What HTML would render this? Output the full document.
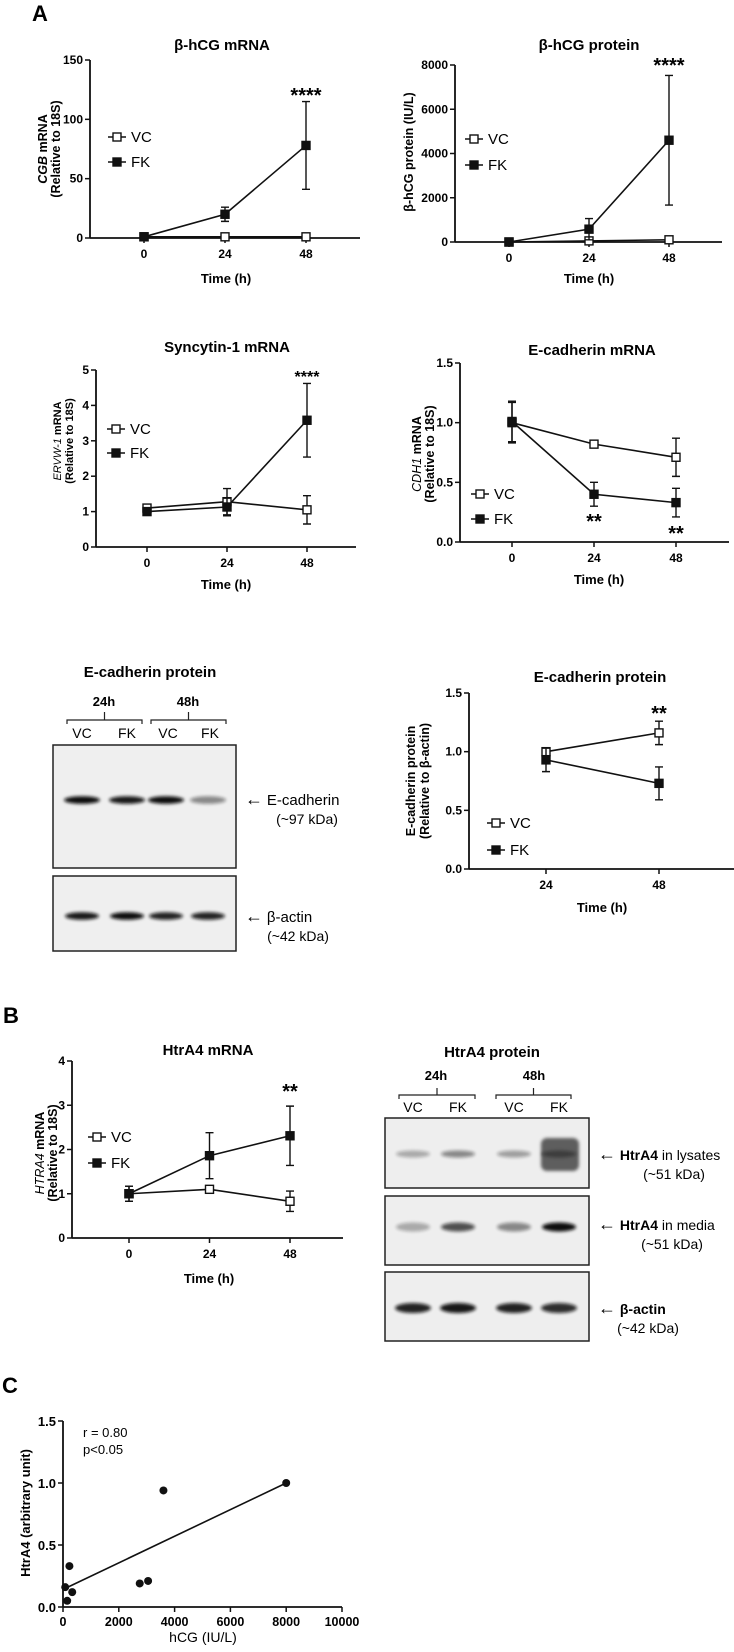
<!DOCTYPE html>
<html><head><meta charset="utf-8">
<style>
html,body{margin:0;padding:0;background:#fff;}
svg{display:block;font-family:"Liberation Sans",Arial,sans-serif;}
.t{font-weight:bold;font-size:15px;text-anchor:middle;}
.tk{font-weight:bold;font-size:12px;}
.lg{font-size:15px;}
.yl{font-weight:bold;font-size:12.5px;text-anchor:middle;}
.pl{font-weight:bold;font-size:22px;}
.bl{font-size:14px;}
.ar{font-size:18px;font-weight:bold;}
</style></head>
<body>
<svg id="fig" width="734" height="1652" viewBox="0 0 734 1652" xmlns="http://www.w3.org/2000/svg">
<defs><filter id="blur" x="-30%" y="-100%" width="160%" height="300%"><feGaussianBlur stdDeviation="1.6"/></filter></defs>
<rect x="0" y="0" width="734" height="1652" fill="#fff"/>
<text class="pl" x="32" y="21">A</text>
<text class="pl" x="3" y="1023">B</text>
<text class="pl" x="2" y="1393">C</text>

<text class="t" x="222" y="50">β-hCG mRNA</text>
<text class="t" x="589" y="50">β-hCG protein</text>
<text class="t" x="227" y="352">Syncytin-1 mRNA</text>
<text class="t" x="592" y="355">E-cadherin mRNA</text>
<text class="t" x="150" y="677">E-cadherin protein</text>
<text class="t" x="600" y="682">E-cadherin protein</text>
<text class="t" x="208" y="1055">HtrA4 mRNA</text>
<text class="t" x="492" y="1057">HtrA4 protein</text>

<g transform="translate(47,149) rotate(-90)"><text class="yl" x="0" y="0"><tspan font-style="italic">CGB</tspan> mRNA</text><text class="yl" x="0" y="13">(Relative to 18S)</text></g>
<g transform="translate(413,152) rotate(-90)"><text class="yl" x="0" y="0">β-hCG protein (IU/L)</text></g>
<g transform="translate(61,441) rotate(-90)"><text class="yl" style="font-size:11px" x="0" y="0"><tspan font-style="italic" font-weight="normal">ERVW-1</tspan> mRNA</text><text class="yl" style="font-size:11px" x="0" y="12">(Relative to 18S)</text></g>
<g transform="translate(421,454) rotate(-90)"><text class="yl" x="0" y="0"><tspan font-style="italic" font-weight="normal">CDH1</tspan> mRNA</text><text class="yl" x="0" y="13">(Relative to 18S)</text></g>
<g transform="translate(415,781) rotate(-90)"><text class="yl" x="0" y="0">E-cadherin protein</text><text class="yl" x="0" y="14">(Relative to β-actin)</text></g>
<g transform="translate(44,1153) rotate(-90)"><text class="yl" x="0" y="0"><tspan font-style="italic" font-weight="normal">HTRA4</tspan> mRNA</text><text class="yl" x="0" y="13">(Relative to 18S)</text></g>
<g transform="translate(30,1513) rotate(-90)"><text class="yl" style="font-size:13px" x="0" y="0">HtrA4 (arbitrary unit)</text></g>

<text class="yl" style="font-size:13px" x="226" y="283">Time (h)</text>
<text class="yl" style="font-size:13px" x="589" y="283">Time (h)</text>
<text class="yl" style="font-size:13px" x="226" y="589">Time (h)</text>
<text class="yl" style="font-size:13px" x="599" y="584">Time (h)</text>
<text class="yl" style="font-size:13px" x="602" y="912">Time (h)</text>
<text class="yl" style="font-size:13px" x="209" y="1283">Time (h)</text>
<text class="yl" style="font-size:14px;font-weight:normal" x="203" y="1642">hCG (IU/L)</text>
<text style="font-size:13px" x="83" y="1437">r = 0.80</text>
<text style="font-size:13px" x="83" y="1454">p&lt;0.05</text>

<g>
<text class="tk" x="104" y="706" text-anchor="middle" style="font-size:13px">24h</text>
<text class="tk" x="188" y="706" text-anchor="middle" style="font-size:13px">48h</text>
<path d="M67,724 v-4 h75 v4 M104.5,720 v-8 M151,724 v-4 h75 v4 M188.5,720 v-8" fill="none" stroke="#222" stroke-width="1.2"/>
<text class="bl" x="82" y="738" text-anchor="middle">VC</text>
<text class="bl" x="127" y="738" text-anchor="middle">FK</text>
<text class="bl" x="168" y="738" text-anchor="middle">VC</text>
<text class="bl" x="210" y="738" text-anchor="middle">FK</text>
<rect x="53" y="745" width="183" height="123" fill="#efefef" stroke="#222" stroke-width="1.5"/>
<rect x="53" y="876" width="183" height="75" fill="#efefef" stroke="#222" stroke-width="1.5"/>
<g id="ecadBands"></g>
<text class="bl" x="245" y="805"><tspan class="ar">←</tspan> <tspan font-size="15">E-cadherin</tspan></text>
<text class="bl" x="307" y="824" text-anchor="middle">(~97 kDa)</text>
<text class="bl" x="245" y="922"><tspan class="ar">←</tspan> <tspan font-size="15">β-actin</tspan></text>
<text class="bl" x="298" y="941" text-anchor="middle">(~42 kDa)</text>
</g>

<g>
<text class="tk" x="436" y="1080" text-anchor="middle" style="font-size:13px">24h</text>
<text class="tk" x="534" y="1080" text-anchor="middle" style="font-size:13px">48h</text>
<path d="M399,1099 v-4 h76 v4 M437,1095 v-7 M496,1099 v-4 h75 v4 M533.5,1095 v-7" fill="none" stroke="#222" stroke-width="1.2"/>
<text class="bl" x="413" y="1112" text-anchor="middle">VC</text>
<text class="bl" x="458" y="1112" text-anchor="middle">FK</text>
<text class="bl" x="514" y="1112" text-anchor="middle">VC</text>
<text class="bl" x="559" y="1112" text-anchor="middle">FK</text>
<rect x="385" y="1118" width="204" height="70" fill="#eeeeee" stroke="#222" stroke-width="1.5"/>
<rect x="385" y="1196" width="204" height="69" fill="#eeeeee" stroke="#222" stroke-width="1.5"/>
<rect x="385" y="1272" width="204" height="69" fill="#eeeeee" stroke="#222" stroke-width="1.5"/>
<g id="htrBands"></g>
<text class="bl" x="598" y="1160"><tspan class="ar">←</tspan> <tspan font-weight="bold">HtrA4</tspan> in lysates</text>
<text class="bl" x="674" y="1179" text-anchor="middle">(~51 kDa)</text>
<text class="bl" x="598" y="1230"><tspan class="ar">←</tspan> <tspan font-weight="bold">HtrA4</tspan> in media</text>
<text class="bl" x="672" y="1249" text-anchor="middle">(~51 kDa)</text>
<text class="bl" x="598" y="1314"><tspan class="ar">←</tspan> <tspan font-weight="bold">β-actin</tspan></text>
<text class="bl" x="648" y="1333" text-anchor="middle">(~42 kDa)</text>
</g>
<g id="charts"></g>
</svg>
<script>
const times3 = [0, 24, 48];
const times2 = [24, 48];
const hcgM_VC = [1, 1, 1];
const hcgM_VCerr = [0.5, 1, 1];
const hcgM_FK = [1, 20, 78];
const hcgM_FKerr = [0.5, 6, 37];
const hcgM_yTicks = [0, 50, 100, 150];
const hcgP_VC = [0, 50, 100];
const hcgP_VCerr = [0, 40, 60];
const hcgP_FK = [0, 580, 4600];
const hcgP_FKerr = [0, 480, 2930];
const hcgP_yTicks = [0, 2000, 4000, 6000, 8000];
const syn_VC = [1.1, 1.28, 1.05];
const syn_VCerr = [0.08, 0.37, 0.4];
const syn_FK = [1.0, 1.13, 3.58];
const syn_FKerr = [0.05, 0.25, 1.04];
const syn_yTicks = [0, 1, 2, 3, 4, 5];
const cdh_VC = [1.0, 0.82, 0.71];
const cdh_VCerr = [0.17, 0.02, 0.16];
const cdh_FK = [1.01, 0.40, 0.33];
const cdh_FKerr = [0.17, 0.10, 0.12];
const cdh_yTicks = [0, 0.5, 1.0, 1.5];
const ecp_VC = [1.0, 1.16];
const ecp_VCerr = [0.03, 0.10];
const ecp_FK = [0.93, 0.73];
const ecp_FKerr = [0.10, 0.14];
const ecp_yTicks = [0, 0.5, 1.0, 1.5];
const htr_VC = [1.0, 1.1, 0.83];
const htr_VCerr = [0.17, 0.04, 0.23];
const htr_FK = [1.0, 1.86, 2.31];
const htr_FKerr = [0.17, 0.52, 0.67];
const htr_yTicks = [0, 1, 2, 3, 4];
const corr_hcg = [80, 150, 230, 330, 2750, 3050, 3600, 8000];
const corr_htr = [0.16, 0.05, 0.33, 0.12, 0.19, 0.21, 0.94, 1.0];
const corr_fitX = [80, 8000];
const corr_fitY = [0.15, 1.0];
const corr_xTicks = [0, 2000, 4000, 6000, 8000, 10000];
const corr_yTicks = [0, 0.5, 1.0, 1.5];
const ecadBandIntensity = [1.0, 0.95, 1.0, 0.45];
const ecadActinIntensity = [0.95, 1.0, 0.9, 0.9];
const htrLysateIntensity = [0.3, 0.45, 0.35, 1.0];
const htrMediaIntensity = [0.3, 0.7, 0.45, 1.0];
const htrActinIntensity = [0.9, 0.95, 0.9, 0.85];

const NS = 'http://www.w3.org/2000/svg';
const root = document.getElementById('charts');
function mk(tag, attrs, parent) {
  const e = document.createElementNS(NS, tag);
  for (const k in attrs) e.setAttribute(k, attrs[k]);
  (parent || root).appendChild(e);
  return e;
}
function fmt(v, dec) { return dec ? v.toFixed(1) : String(v); }

function lineChart(c) {
  const g = mk('g', {});
  
  
  const yMin = c.yTicks[0], yMax = c.yTicks[c.yTicks.length - 1];
  const Y = v => c.y0 + (v - yMin) / (yMax - yMin) * (c.yTop - c.y0);
  const X = t => c.xA + (t - c.tA) / (c.tB - c.tA) * (c.xB - c.xA);
  const yax = mk('line', {x1: c.ax, y1: c.yTop, x2: c.ax, y2: c.y0, stroke: '#111', 'stroke-width': 1.8}, g);
  
  
  const xax = mk('line', {x1: c.ax, y1: c.y0, x2: c.xEnd, y2: c.y0, stroke: '#111', 'stroke-width': 1.8}, g);
  
  
  c.yTicks.forEach(v => {
    const y = Y(v);
    mk('line', {x1: c.ax - 5, y1: y, x2: c.ax, y2: y, stroke: '#111', 'stroke-width': 1.5}, g);
    const t = mk('text', {x: c.ax - 7, y: y + 4, 'text-anchor': 'end', class: 'tk'}, g);
    t.textContent = fmt(v, c.dec);
    
    
  });
  c.times.forEach(tm => {
    const x = X(tm);
    mk('line', {x1: x, y1: c.y0, x2: x, y2: c.y0 + 5, stroke: '#111', 'stroke-width': 1.5}, g);
    const t = mk('text', {x: x, y: c.y0 + 20, 'text-anchor': 'middle', class: 'tk'}, g);
    t.textContent = String(tm);
    
    
  });
  [[c.vc, c.vcErr, false, 'vc'], [c.fk, c.fkErr, true, 'fk']].forEach(([vals, errs, filled, nm]) => {
    const pts = vals.map((v, i) => X(c.times[i]) + ',' + Y(v)).join(' ');
    const pl = mk('polyline', {points: pts, fill: 'none', stroke: '#111', 'stroke-width': 1.6}, g);
    
    
    vals.forEach((v, i) => {
      const x = X(c.times[i]);
      const e = errs[i];
      const eb = mk('path', {d: `M${x},${Y(v - e)} V${Y(v + e)} M${x - 4},${Y(v + e)} h8 M${x - 4},${Y(v - e)} h8`, stroke: '#111', 'stroke-width': 1.4, fill: 'none'}, g);
      
      
      const m = mk('rect', {x: x - 4, y: Y(v) - 4, width: 8, height: 8, fill: filled ? '#111' : '#fff', stroke: '#111', 'stroke-width': 1.4}, g);
      
      
    });
  });
  [['VC', c.lgVC, false], ['FK', c.lgFK, true]].forEach(([lab, ly, filled]) => {
    const lg = mk('g', {}, g);
    
    
    mk('line', {x1: c.lgX - 9, y1: ly, x2: c.lgX + 9, y2: ly, stroke: '#111', 'stroke-width': 1.6}, lg);
    mk('rect', {x: c.lgX - 4, y: ly - 4, width: 8, height: 8, fill: filled ? '#111' : '#fff', stroke: '#111', 'stroke-width': 1.4}, lg);
    const t = mk('text', {x: c.lgX + 14, y: ly + 5, class: 'lg'}, lg);
    t.textContent = lab;
  });
  (c.stars || []).forEach(s => {
    const t = mk('text', {x: X(s[0]), y: s[1], 'text-anchor': 'middle', style: 'font-size:' + (s[3] || 20) + 'px;font-weight:bold'}, g);
    t.textContent = s[2];
    
    
  });
}

lineChart({name: 'hcg-mrna-chart', ax: 90, y0: 238, yTop: 60, yTicks: hcgM_yTicks, times: times3, xA: 144, tA: 0, xB: 306, tB: 48, xEnd: 360,
  vc: hcgM_VC, vcErr: hcgM_VCerr, fk: hcgM_FK, fkErr: hcgM_FKerr, lgX: 117, lgVC: 137, lgFK: 162, stars: [[48, 102, '****']]});
lineChart({name: 'hcg-protein-chart', ax: 455, y0: 242, yTop: 65, yTicks: hcgP_yTicks, times: times3, xA: 509, tA: 0, xB: 669, tB: 48, xEnd: 722,
  vc: hcgP_VC, vcErr: hcgP_VCerr, fk: hcgP_FK, fkErr: hcgP_FKerr, lgX: 474, lgVC: 139, lgFK: 165, stars: [[48, 72, '****']]});
lineChart({name: 'syncytin-chart', ax: 96, y0: 547, yTop: 370, yTicks: syn_yTicks, times: times3, xA: 147, tA: 0, xB: 307, tB: 48, xEnd: 356,
  vc: syn_VC, vcErr: syn_VCerr, fk: syn_FK, fkErr: syn_FKerr, lgX: 116, lgVC: 429, lgFK: 453, stars: [[48, 382, '****', 16]]});
lineChart({name: 'ecad-mrna-chart', ax: 460, y0: 542, yTop: 363, yTicks: cdh_yTicks, dec: true, times: times3, xA: 512, tA: 0, xB: 676, tB: 48, xEnd: 729,
  vc: cdh_VC, vcErr: cdh_VCerr, fk: cdh_FK, fkErr: cdh_FKerr, lgX: 480, lgVC: 494, lgFK: 519, stars: [[24, 528, '**'], [48, 540, '**']]});
lineChart({name: 'ecad-protein-chart', ax: 469, y0: 869, yTop: 693, yTicks: ecp_yTicks, dec: true, times: times2, xA: 546, tA: 24, xB: 659, tB: 48, xEnd: 734,
  vc: ecp_VC, vcErr: ecp_VCerr, fk: ecp_FK, fkErr: ecp_FKerr, lgX: 496, lgVC: 823, lgFK: 850, stars: [[48, 720, '**']]});
lineChart({name: 'htra4-mrna-chart', ax: 72, y0: 1238, yTop: 1061, yTicks: htr_yTicks, times: times3, xA: 129, tA: 0, xB: 290, tB: 48, xEnd: 343,
  vc: htr_VC, vcErr: htr_VCerr, fk: htr_FK, fkErr: htr_FKerr, lgX: 97, lgVC: 1137, lgFK: 1163, stars: [[48, 1098, '**']]});

(function () {
  const g = mk('g', {});
  
  
  const ax = 63, y0 = 1607, yTop = 1421, xEnd = 342;
  const X = v => ax + v / corr_xTicks[corr_xTicks.length - 1] * (xEnd - ax);
  const Y = v => y0 - v / corr_yTicks[corr_yTicks.length - 1] * (y0 - yTop);
  const ya = mk('line', {x1: ax, y1: yTop, x2: ax, y2: y0, stroke: '#111', 'stroke-width': 1.8}, g);
  
  
  const xa = mk('line', {x1: ax, y1: y0, x2: xEnd, y2: y0, stroke: '#111', 'stroke-width': 1.8}, g);
  
  
  corr_yTicks.forEach(v => {
    mk('line', {x1: ax - 5, y1: Y(v), x2: ax, y2: Y(v), stroke: '#111', 'stroke-width': 1.5}, g);
    const t = mk('text', {x: ax - 7, y: Y(v) + 5, 'text-anchor': 'end', class: 'tk', style: 'font-size:13px'}, g);
    t.textContent = v.toFixed(1);
    
    
  });
  corr_xTicks.forEach(v => {
    mk('line', {x1: X(v), y1: y0, x2: X(v), y2: y0 + 5, stroke: '#111', 'stroke-width': 1.5}, g);
    const t = mk('text', {x: X(v), y: y0 + 19, 'text-anchor': 'middle', class: 'tk', style: 'font-size:12.5px'}, g);
    t.textContent = String(v);
    
    
  });
  const fit = mk('line', {x1: X(corr_fitX[0]), y1: Y(corr_fitY[0]), x2: X(corr_fitX[1]), y2: Y(corr_fitY[1]), stroke: '#111', 'stroke-width': 1.6}, g);
  
  
  corr_hcg.forEach((v, i) => {
    const c = mk('circle', {cx: X(v), cy: Y(corr_htr[i]), r: 4, fill: '#111'}, g);
    
    
  });
})();

function bands(parentId, lanes, y, rx, ry, vals, name) {
  const p = document.getElementById(parentId);
  vals.forEach((a, i) => {
    const e = mk('ellipse', {cx: lanes[i], cy: y, rx: rx, ry: ry, fill: '#111', opacity: a, filter: 'url(#blur)'}, p);
    
    
  });
}
bands('ecadBands', [82, 127, 166, 208], 800, 18, 3.8, ecadBandIntensity, 'ecad-band');
bands('ecadBands', [82, 127, 166, 208], 916, 17, 3.8, ecadActinIntensity, 'actin-band');
bands('htrBands', [413, 458, 514, 559], 1154, 17, 3.5, htrLysateIntensity, 'htra4-lysate-band');
bands('htrBands', [413, 458, 514, 559], 1227, 17, 4.5, htrMediaIntensity, 'htra4-media-band');
bands('htrBands', [413, 458, 514, 559], 1308, 18, 5, htrActinIntensity, 'htra4-actin-band');
(function () {
  const p = document.getElementById('htrBands');
  const b = mk('rect', {x: 541, y: 1138, width: 38, height: 33, rx: 6, fill: '#444', opacity: 0.85, filter: 'url(#blur)'}, p);
  
  
})();
</script>
</body></html>
